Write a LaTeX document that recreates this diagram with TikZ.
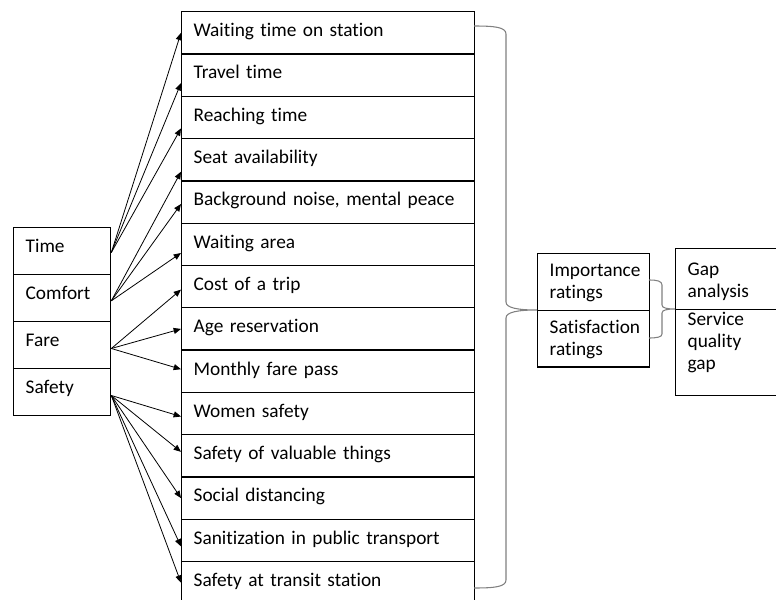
\documentclass[tikz,border=0pt]{standalone}
\usepackage{fontspec}
\setmainfont{Carlito}[Ligatures=NoCommon]
\usetikzlibrary{arrows.meta}
\tikzstyle{factor} = [rectangle, draw, line width=1pt, text width=54.75pt,
	align=left, inner xsep=9pt, inner ysep=0pt,
	text height=18.75pt, text depth=16.5pt]
\tikzstyle{attribute} = [rectangle, draw, line width=1pt, text width=201.75pt,
	align=left, inner xsep=9pt, inner ysep=0pt,
	text height=18.75pt, text depth=12.975pt]
\tikzstyle{rating} = [rectangle, draw, line width=1pt, text width=66pt,
	align=left, inner xsep=9pt, inner ysep=0pt,
	text height=17.25pt, text depth=25.25pt]
\tikzstyle{outcome} = [rectangle, draw, line width=1pt, text width=59.25pt,
	align=left, inner xsep=9pt, inner ysep=0pt]
\tikzstyle{line} = [draw, line width=0.6pt, -{Triangle[length=5.5pt,width=4.5pt]}]
\tikzstyle{brace} = [draw, gray, line width=0.8pt]

\begin{document}
\begin{tikzpicture}[x=0.75pt, y=-0.75pt, node distance=31.725pt,
	font=\fontsize{14.5}{16.5}\selectfont]
	\useasboundingbox (0,0) rectangle (776,600);

	% Place nodes
	\node [factor, anchor=north west] (time) at (13,227) {Time};
	\node [factor, below of=time, node distance=35.25pt] (comfort) {Comfort};
	\node [factor, below of=comfort, node distance=35.25pt] (fare) {Fare};
	\node [factor, below of=fare, node distance=35.25pt] (safety) {Safety};

	\node [attribute, anchor=north west] (waiting) at (181,11) {Waiting time on station};
	\node [attribute, below of=waiting] (travel) {Travel time};
	\node [attribute, below of=travel] (reaching) {Reaching time};
	\node [attribute, below of=reaching] (seat) {Seat availability};
	\node [attribute, below of=seat] (noise) {Background noise, mental peace};
	\node [attribute, below of=noise] (waitArea) {Waiting area};
	\node [attribute, below of=waitArea] (cost) {Cost of a trip};
	\node [attribute, below of=cost] (age) {Age reservation};
	\node [attribute, below of=age] (pass) {Monthly fare pass};
	\node [attribute, below of=pass] (women) {Women safety};
	\node [attribute, below of=women] (valuables) {Safety of valuable things};
	\node [attribute, below of=valuables] (distancing) {Social distancing};
	\node [attribute, below of=distancing] (sanitization) {Sanitization in public transport};
	\node [attribute, below of=sanitization] (transit) {Safety at transit station};

	\node [rating, anchor=north west] (importance) at (537,253) {Importance\\ratings};
	\node [rating, below of=importance, node distance=42.5pt] (satisfaction) {Satisfaction\\ratings};
	\node [outcome, anchor=north west, text height=20.25pt, text depth=25.5pt] (gapAnalysis) at (675,248) {Gap\\analysis};
	\node [outcome, below of=gapAnalysis, node distance=55.125pt,
		text height=12pt, text depth=52.5pt] (serviceGap) {Service\\quality\\gap};

	% Draw edges
	\path [line] ([yshift=-1pt]time.east) -- (waiting.west);
	\path [line] ([yshift=-1pt]time.east) -- ([yshift=-6pt]travel.west);
	\path [line] ([yshift=-1pt]time.east) -- ([yshift=-8.25pt]reaching.west);
	\path [line] ([yshift=-2pt]comfort.east) -- ([yshift=-9pt]seat.west);
	\path [line] ([yshift=-2pt]comfort.east) -- ([yshift=-1.5pt]noise.west);
	\path [line] ([yshift=-2pt]comfort.east) -- ([yshift=-6.5pt]waitArea.west);
	\path [line] ([yshift=-2.5pt]fare.east) -- ([yshift=-2.25pt]cost.west);
	\path [line] ([yshift=-2.5pt]fare.east) -- (age.west);
	\path [line] ([yshift=-2.5pt]fare.east) -- ([yshift=1.5pt]pass.west);
	\path [line] ([yshift=-2.5pt]safety.east) -- ([yshift=-2.25pt]women.west);
	\path [line] ([yshift=-2.5pt]safety.east) -- ([yshift=3pt]valuables.west);
	\path [line] ([yshift=-2.5pt]safety.east) -- (distancing.west);
	\path [line] ([yshift=-2.5pt]safety.east) -- ([yshift=-4.5pt]sanitization.west);
	\path [line] ([yshift=-2.5pt]safety.east) -- (transit.west);

	% Braces
	\path [brace] (474,26) .. controls (494,26) and (506,27) .. (506,34)
		-- (506,302) .. controls (506,308) and (518,310) .. (537,310)
		.. controls (518,310) and (506,312) .. (506,318)
		-- (506,580) .. controls (506,587) and (494,588) .. (474,588);
	\path [brace] (649,280) .. controls (657,280) and (662,281) .. (662,285)
		-- (662,305) .. controls (662,308) and (667,309) .. (675,309)
		.. controls (667,309) and (662,310) .. (662,313)
		-- (662,334) .. controls (662,337) and (657,338) .. (649,338);
\end{tikzpicture}
\end{document}
